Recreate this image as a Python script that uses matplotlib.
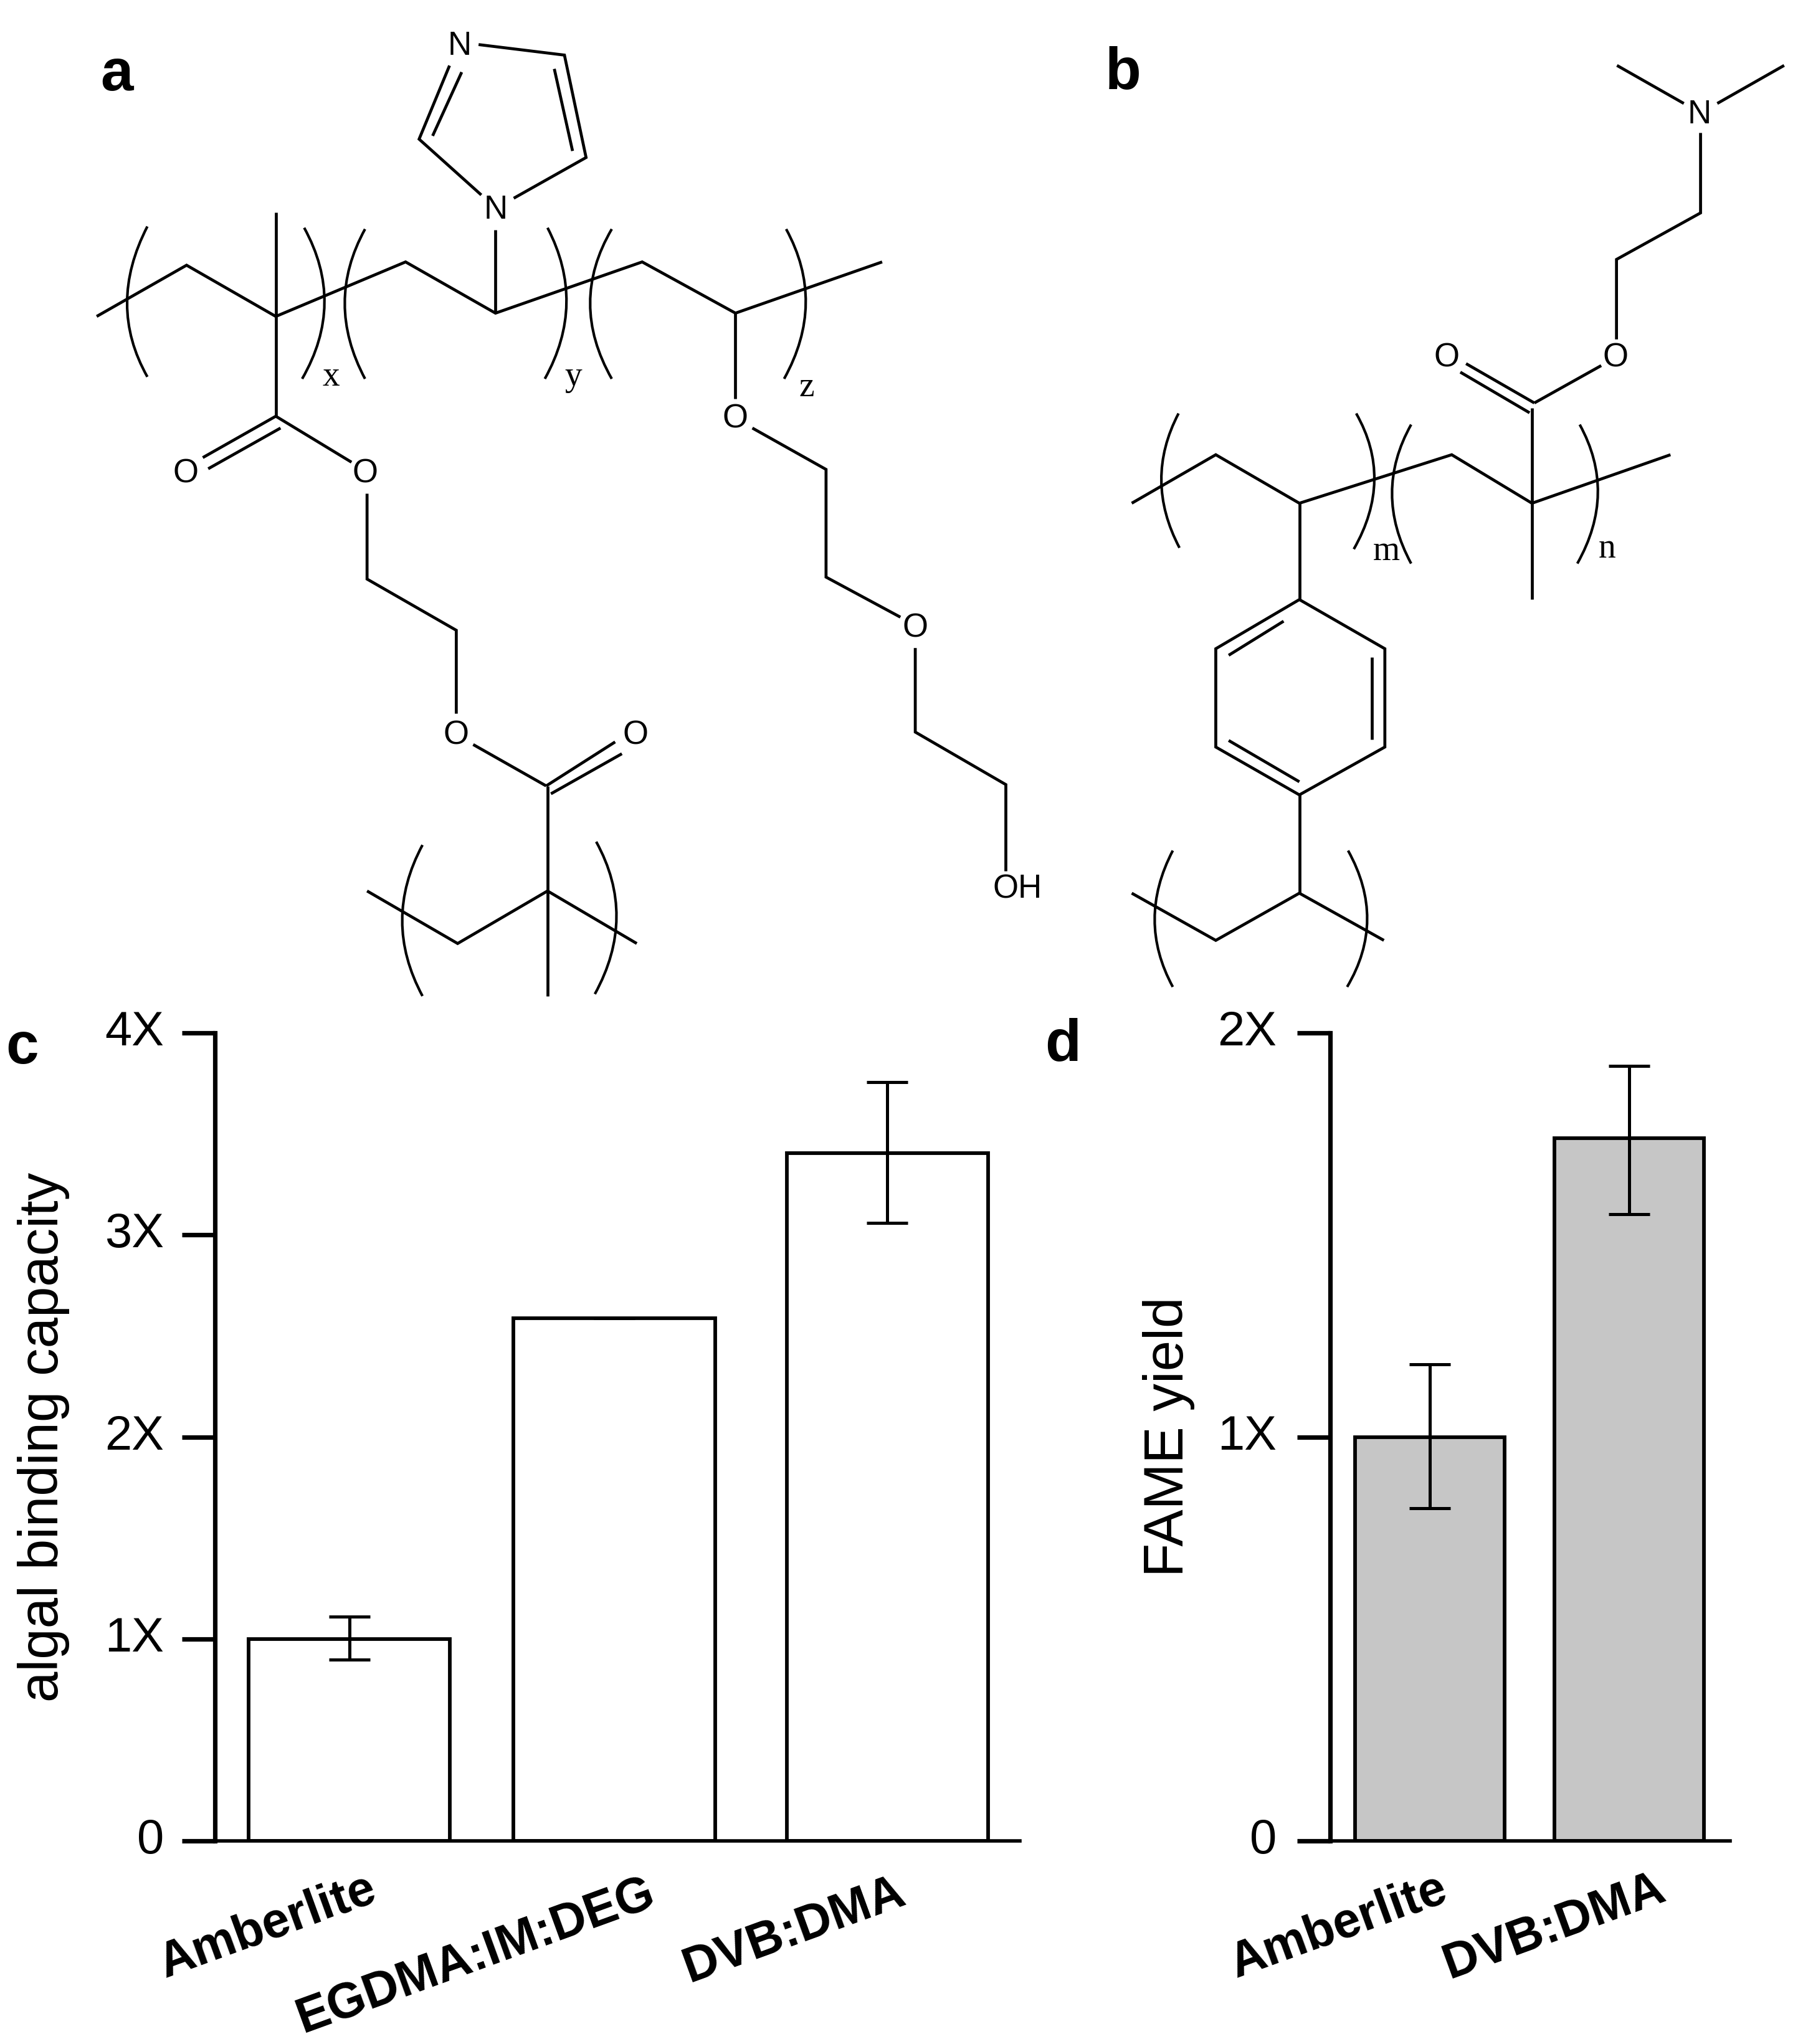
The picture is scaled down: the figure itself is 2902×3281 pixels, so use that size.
import matplotlib
matplotlib.use('Agg')
import matplotlib.pyplot as plt
from matplotlib.path import Path
from matplotlib.patches import PathPatch
from matplotlib.transforms import ScaledTranslation

plt.rcParams['font.family'] = ['Liberation Sans', 'DejaVu Sans']

W, H = 2902, 3281

# bar data, panel c
c_labels = ['Amberlite', 'EGDMA:IM:DEG', 'DVB:DMA']
c_pos = [0, 1, 2.03]
c_values = [1.0, 2.587, 3.406]
c_err_low = [0.103, 0.0, 0.348]
c_err_high = [0.11, 0.0, 0.349]
c_ticks = [0, 1, 2, 3, 4]
c_ticklabels = ['0', '1X', '2X', '3X', '4X']

# bar data, panel d
d_labels = ['Amberlite', 'DVB:DMA']
d_pos = [0, 1]
d_values = [1.0, 1.739]
d_err_low = [0.177, 0.187]
d_err_high = [0.18, 0.18]
d_ticks = [0, 1, 2]
d_ticklabels = ['0', '1X', '2X']

# structure a, in units of the zoom crop (converted to pixels below)
a_bonds = [
    [(143, 480), (276, 402), (408, 480), (600, 397), (733, 475), (950, 397), (1088, 475), (1305, 397)],
    [(408, 322), (408, 632)],
    [(408, 632), (300, 695)],
    [(415, 650), (308, 712)],
    [(408, 632), (520, 702)],
    [(543, 750), (543, 880), (675, 958), (675, 1085)],
    [(700, 1132), (808, 1195)],
    [(808, 1195), (910, 1128)],
    [(815, 1207), (920, 1146)],
    [(810, 1195), (810, 1515)],
    [(543, 1355), (677, 1435), (810, 1355), (942, 1435)],
    [(733, 348), (733, 475)],
    [(708, 66), (835, 82), (867, 238), (760, 300)],
    [(712, 295), (620, 210), (665, 98)],
    [(820, 103), (847, 228)],
    [(640, 205), (683, 108)],
    [(1088, 475), (1088, 605)],
    [(1113, 650), (1222, 713), (1222, 877), (1332, 938)],
    [(1354, 985), (1354, 1113), (1488, 1193), (1488, 1325)],
]
a_brackets = [
    [(218, 343), (188, 460), (218, 572)],
    [(450, 345), (480, 460), (447, 575)],
    [(540, 347), (510, 460), (540, 575)],
    [(810, 345), (838, 460), (806, 575)],
    [(905, 347), (873, 460), (905, 575)],
    [(1163, 347), (1192, 460), (1160, 575)],
    [(625, 1285), (595, 1400), (625, 1515)],
    [(882, 1280), (912, 1395), (880, 1512)],
]
a_atoms = [('N', 680, 68), ('N', 733, 318), ('O', 275, 720), ('O', 540, 720), ('O', 675, 1118),
           ('O', 940, 1118), ('O', 1088, 636), ('O', 1354, 955), ('OH', 1505, 1352)]
a_subs = [('x', 490, 572), ('y', 848, 572), ('z', 1193, 588)]

# structure b, same idea
b_bonds = [
    [(152, 765), (328, 691), (503, 765), (822, 691), (990, 765), (1280, 691)],
    [(503, 765), (503, 912)],
    [(503, 912), (682, 987), (682, 1137), (503, 1210), (328, 1137), (328, 987), (503, 912)],
    [(355, 997), (470, 945)],
    [(655, 1000), (655, 1125)],
    [(355, 1127), (503, 1190)],
    [(503, 1210), (503, 1360)],
    [(152, 1360), (328, 1432), (503, 1360), (680, 1432)],
    [(990, 620), (990, 912)],
    [(995, 612), (852, 552)],
    [(985, 627), (840, 565)],
    [(995, 612), (1135, 555)],
    [(1167, 515), (1167, 393), (1343, 322), (1343, 200)],
    [(1308, 155), (1168, 97)],
    [(1378, 155), (1518, 97)],
]
b_brackets = [
    [(250, 628), (214, 730), (252, 833)],
    [(622, 628), (660, 730), (617, 835)],
    [(737, 645), (697, 750), (737, 857)],
    [(1090, 645), (1128, 750), (1085, 857)],
    [(238, 1295), (200, 1400), (238, 1503)],
    [(605, 1295), (645, 1400), (603, 1503)],
]
b_atoms = [('N', 1340, 172), ('O', 1165, 543), ('O', 812, 543)]
b_subs = [('m', 685, 838), ('n', 1147, 835)]


def to_a(p):
    return p[0] * 1.085, p[1] * 1.054 + 2


def to_b(p):
    return 1700 + p[0] * 0.7666, p[1] * 1.052 + 3


def draw_structure(ax, bonds, brackets, atoms, subs, conv):
    for bond in bonds:
        pts = [conv(p) for p in bond]
        ax.plot([p[0] for p in pts], [p[1] for p in pts], color='black', lw=3.4, solid_joinstyle='miter', solid_capstyle='butt')
    for br in brackets:
        p0, m, p2 = [conv(p) for p in br]
        ctrl = (2 * m[0] - (p0[0] + p2[0]) / 2, 2 * m[1] - (p0[1] + p2[1]) / 2)
        path = Path([p0, ctrl, p2], [Path.MOVETO, Path.CURVE3, Path.CURVE3])
        ax.add_patch(PathPatch(path, fill=False, edgecolor='black', lw=3.0))
    for s, x, y in atoms:
        x, y = conv((x, y))
        ax.text(x, y, s, fontsize=38, ha='center', va='center', color='black')
    for s, x, y in subs:
        x, y = conv((x, y))
        ax.text(x, y, s, fontsize=40, ha='center', va='center', color='black', family='Liberation Serif')


def bar_panel(rect, pos, values, low, high, ticks, ticklabels, labels, offsets, ylabel, ylabel_x,
              xlim, ylim, width, facecolor, pad):
    left, right, top, bottom = rect
    ax = fig.add_axes([left / W, 1 - bottom / H, (right - left) / W, (bottom - top) / H])
    ax.bar(pos, values, width=width, color=facecolor, edgecolor='black', linewidth=4.2, zorder=2)
    ax.errorbar(pos, values, yerr=[low, high], fmt='none', ecolor='black', elinewidth=3.6,
                capsize=24, capthick=3.6, zorder=3, clip_on=False)
    ax.set_xlim(xlim)
    ax.set_ylim(ylim)
    ax.spines['top'].set_visible(False)
    ax.spines['right'].set_visible(False)
    ax.spines['left'].set_linewidth(5.2)
    ax.spines['bottom'].set_linewidth(4.0)
    ax.set_xticks([])
    ax.set_yticks(ticks)
    ax.set_yticklabels(ticklabels)
    ax.tick_params(axis='y', length=38, width=5.2, pad=pad, labelsize=56)
    # tick labels sit a little above their ticks in the original
    up = ScaledTranslation(0, 6 / 72, fig.dpi_scale_trans)
    for lab in ax.get_yticklabels():
        lab.set_transform(lab.get_transform() + up)
    for p, lab, off in zip(pos, labels, offsets):
        ax.annotate(lab, xy=(p, 0), xycoords=('data', 'axes fraction'), xytext=off, textcoords='offset points',
                    fontsize=57, fontweight='bold', rotation=20, rotation_mode='anchor', ha='right', va='top')
    fig.text(ylabel_x / W, 1 - (top + bottom) / 2 / H, ylabel, rotation=90, fontsize=64, ha='center', va='center')
    return ax


fig = plt.figure(figsize=(W / 100, H / 100), dpi=100, facecolor='white')

# pixel overlay for the chemical structures and the panel letters
over = fig.add_axes([0, 0, 1, 1])
over.set_xlim(0, W)
over.set_ylim(H, 0)
over.axis('off')

draw_structure(over, a_bonds, a_brackets, a_atoms, a_subs, to_a)
draw_structure(over, b_bonds, b_brackets, b_atoms, b_subs, to_b)

panel_letters = [('a', 188, 120), ('b', 1803, 118), ('c', 36, 1682), ('d', 1706, 1678)]
for s, x, y in panel_letters:
    over.text(x, y, s, fontsize=68, fontweight='bold', ha='center', va='center')

bar_panel((345, 1637, 1658, 2955), c_pos, c_values, c_err_low, c_err_high, c_ticks, c_ticklabels,
          c_labels, [(20, -29), (36, -33), (10, -32)], 'algal binding capacity', 70,
          (-0.507, 2.53), (0, 4), 0.76, 'white', 21)
bar_panel((2135, 2777, 1658, 2955), d_pos, d_values, d_err_low, d_err_high, d_ticks, d_ticklabels,
          d_labels, [(9, -29), (31, -28)], 'FAME yield', 1876,
          (-0.5, 1.507), (0, 2), 0.75, '#c6c6c6', 24)

fig.savefig('out.png', dpi=100)
